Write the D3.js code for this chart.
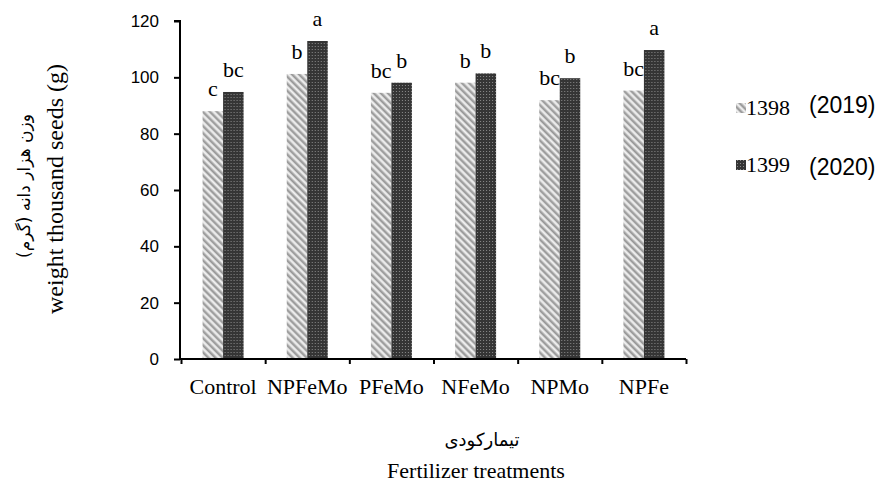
<!DOCTYPE html>
<html>
<head>
<meta charset="utf-8">
<script src="https://cdn.jsdelivr.net/npm/d3@7"></script>
<style>
  body { margin: 0; background: #fff; }
  .serif { font-family: "Liberation Serif", "Times New Roman", serif; }
  .sans { font-family: "Liberation Sans", Arial, sans-serif; }
  .fa { font-family: "DejaVu Sans", sans-serif; }
</style>
</head>
<body>
<div id="chart"></div>
<script>
// data
var categories = ["Control", "NPFeMo", "PFeMo", "NFeMo", "NPMo", "NPFe"];
var years = ["1398", "1399"];
var yearLabels = ["(2019)", "(2020)"];
var values1398 = [88, 101.2, 94.5, 98.1, 91.9, 95.3];
var values1399 = [94.8, 112.9, 98.1, 101.4, 99.7, 109.7];
var letters1398 = ["c", "b", "bc", "b", "bc", "bc"];
var letters1399 = ["bc", "a", "b", "b", "b", "a"];
var yTicks = [0, 20, 40, 60, 80, 100, 120];

var svgWidth = 882;
var svgHeight = 483;

var margin = {top: 21, right: 196, bottom: 124, left: 181};

var width = svgWidth - margin.left - margin.right;
var height = svgHeight - margin.top - margin.bottom;

var svg = d3.select("#chart")
    .append("svg")
        .attr("width", svgWidth)
        .attr("height", svgHeight);

// fill patterns
var defs = svg.append("defs");

var p1 = defs.append("pattern")
    .attr("id", "pat1398")
    .attr("patternUnits", "userSpaceOnUse")
    .attr("width", 5)
    .attr("height", 5)
    .attr("patternTransform", "rotate(-45)");
p1.append("rect").attr("width", 5).attr("height", 5).attr("fill", "#d0d0d0");
p1.append("rect").attr("width", 1.8).attr("height", 5).attr("fill", "#989898");
p1.append("rect").attr("x", 3).attr("width", 1.4).attr("height", 5).attr("fill", "#f2f2f2");

var p2 = defs.append("pattern")
    .attr("id", "pat1399")
    .attr("patternUnits", "userSpaceOnUse")
    .attr("width", 3)
    .attr("height", 3);
p2.append("rect").attr("width", 3).attr("height", 3).attr("fill", "#353535");
p2.append("rect").attr("x", 1).attr("y", 1).attr("width", 1).attr("height", 1).attr("fill", "#8a8a8a");

var fills = {"1398": "url(#pat1398)", "1399": "url(#pat1399)"};

var chartGroup = svg.append("g")
    .attr("transform", `translate(${margin.left}, ${margin.top})`);

var x = d3.scaleBand()
    .domain(categories)
    .range([0, width]);

var pairWidth = 41;
var x1 = d3.scaleBand()
    .domain(years)
    .range([0, pairWidth]);

var y = d3.scaleLinear()
    .domain([0, 120])
    .range([height, 0]);

var data = categories.map(function(c, i) {
    return {cat: c, vals: [
        {year: "1398", value: values1398[i], letter: letters1398[i]},
        {year: "1399", value: values1399[i], letter: letters1399[i]}
    ]};
});

var groups = chartGroup.selectAll(".cat")
    .data(data)
    .enter()
    .append("g")
        .attr("class", "cat")
        .attr("transform", d => `translate(${x(d.cat) + (x.bandwidth() - pairWidth) / 2}, 0)`);

groups.selectAll("rect")
    .data(d => d.vals)
    .enter()
    .append("rect")
        .attr("x", d => x1(d.year))
        .attr("width", x1.bandwidth())
        .attr("y", d => y(d.value))
        .attr("height", d => height - y(d.value))
        .attr("fill", d => fills[d.year]);

groups.selectAll("text")
    .data(d => d.vals)
    .enter()
    .append("text")
        .attr("class", "serif")
        .attr("x", d => x1(d.year) + x1.bandwidth() / 2)
        .attr("y", d => y(d.value) - 15)
        .attr("text-anchor", "middle")
        .style("font-size", "22px")
        .text(d => d.letter);

// Y axis
var yAxis = d3.axisLeft(y).tickValues(yTicks).tickSize(6).tickPadding(15);
var yG = chartGroup.append("g")
    .attr("transform", "translate(-1,0)")
    .call(yAxis);
yG.select(".domain").attr("stroke", "#000").attr("stroke-width", 2)
    .attr("d", `M-6,0H0V${height}`);
yG.selectAll(".tick line").attr("stroke", "#000").attr("stroke-width", 2);
yG.selectAll(".tick text")
    .attr("class", "sans")
    .style("font-size", "17px")
    .attr("fill", "#000");

// X axis, ticks on category boundaries
var xb = d3.scaleLinear().domain([0, categories.length]).range([0, width]);
var xAxis = d3.axisBottom(xb).ticks(categories.length).tickSize(5).tickFormat("");
var xG = chartGroup.append("g")
    .attr("transform", `translate(0, ${height})`)
    .call(xAxis);
xG.select(".domain").attr("stroke", "#000").attr("stroke-width", 2)
    .attr("d", `M-1,0H${width}`);
xG.selectAll(".tick line").attr("stroke", "#000").attr("stroke-width", 2);

chartGroup.selectAll(".catlabel")
    .data(categories)
    .enter()
    .append("text")
        .attr("class", "serif")
        .attr("x", d => x(d) + x.bandwidth() / 2)
        .attr("y", height + 35)
        .attr("text-anchor", "middle")
        .style("font-size", "22px")
        .text(d => d);

// axis titles
svg.append("text")
    .attr("class", "serif")
    .attr("transform", "translate(63,189) rotate(-90)")
    .attr("text-anchor", "middle")
    .style("font-size", "24px")
    .text("weight thousand seeds (g)");

svg.append("text")
    .attr("class", "fa")
    .attr("transform", "translate(30,186) rotate(-90)")
    .attr("text-anchor", "middle")
    .attr("direction", "rtl")
    .style("font-size", "17px")
    .text("وزن هزار دانه  (گرم)");

svg.append("text")
    .attr("class", "fa")
    .attr("x", 482)
    .attr("y", 446)
    .attr("text-anchor", "middle")
    .attr("direction", "rtl")
    .style("font-size", "18px")
    .text("تیمارکودی");

svg.append("text")
    .attr("class", "serif")
    .attr("x", 476)
    .attr("y", 478)
    .attr("text-anchor", "middle")
    .style("font-size", "22px")
    .text("Fertilizer treatments");

// legend
var legendY = [108, 165];
var legend = svg.selectAll(".legend")
    .data(years)
    .enter()
    .append("g")
        .attr("class", "legend")
        .attr("transform", (d, i) => `translate(736, ${legendY[i]})`);

legend.append("rect")
    .attr("x", 0)
    .attr("y", -5)
    .attr("width", 10)
    .attr("height", 10)
    .attr("fill", d => fills[d]);

legend.append("text")
    .attr("class", "serif")
    .attr("x", 10)
    .attr("y", 7)
    .style("font-size", "22px")
    .text(d => d);

legend.append("text")
    .attr("class", "sans")
    .attr("x", 73)
    .attr("y", (d, i) => i === 0 ? 5 : 10)
    .style("font-size", "23px")
    .text((d, i) => yearLabels[i]);
</script>
</body>
</html>
